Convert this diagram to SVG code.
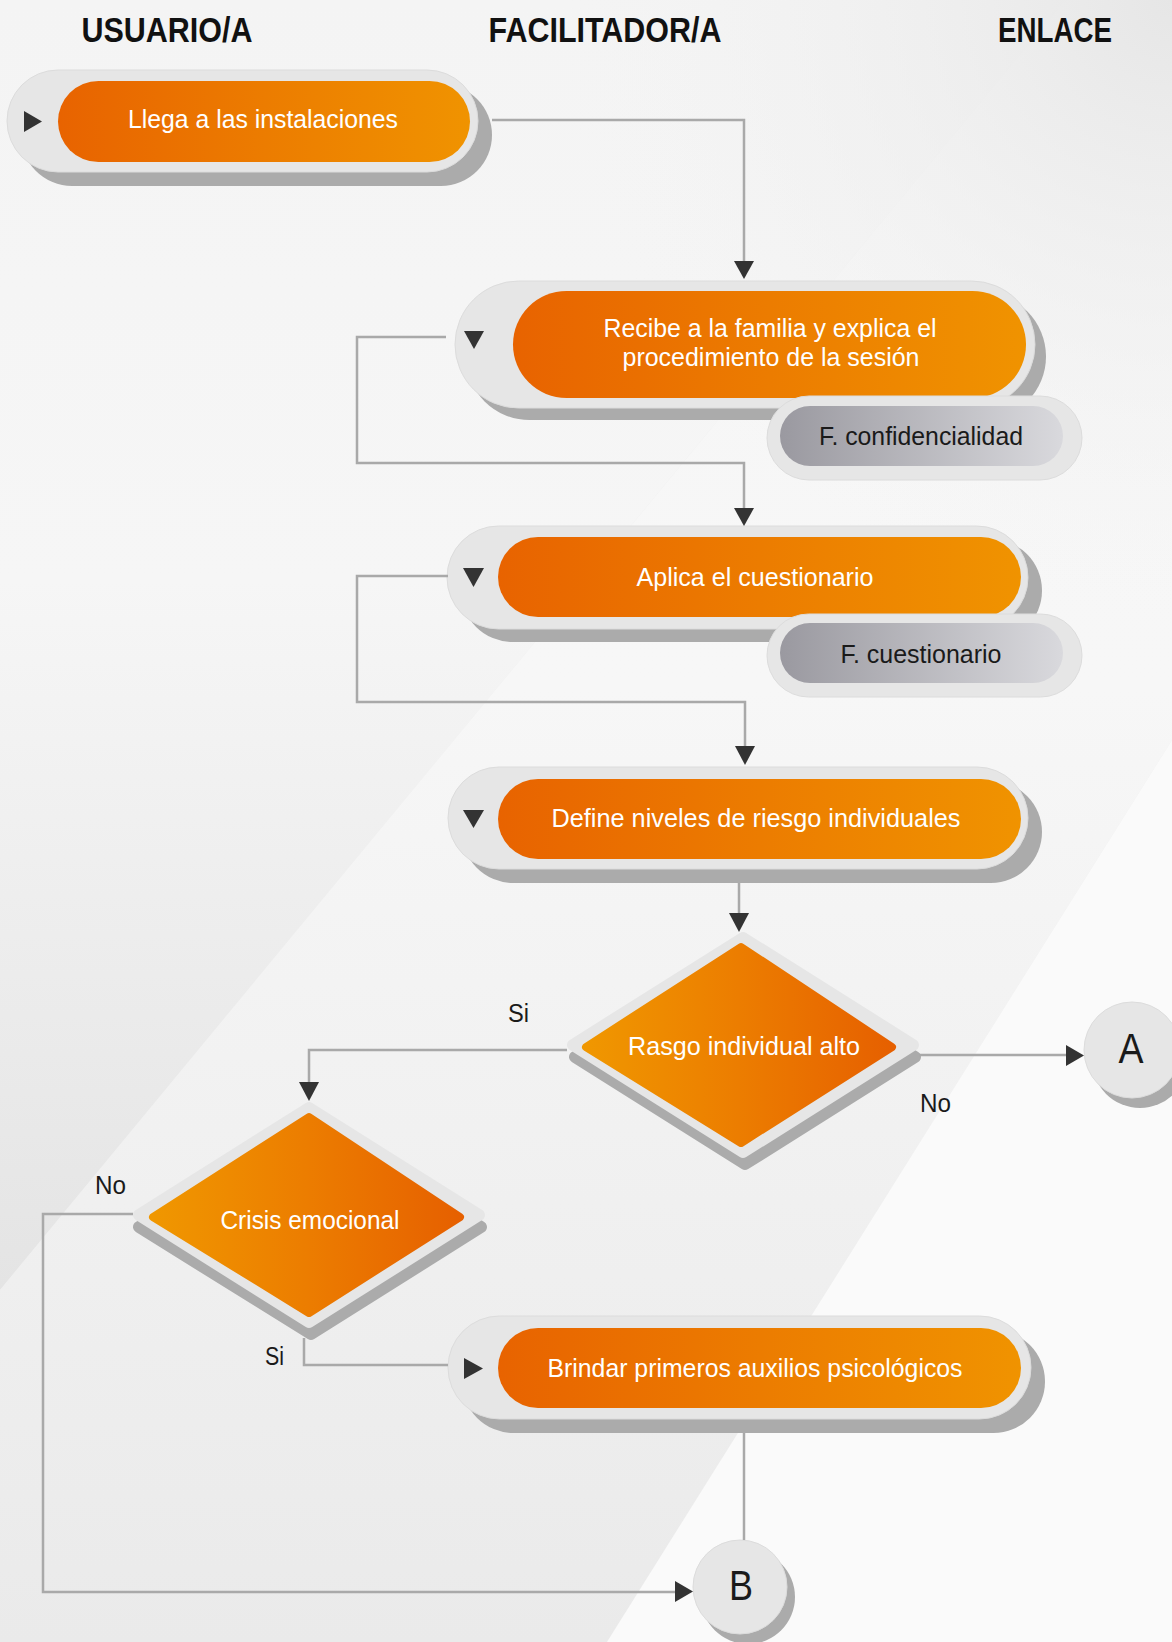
<svg xmlns="http://www.w3.org/2000/svg" width="1172" height="1642" viewBox="0 0 1172 1642">
<defs>
<linearGradient id="gp" x1="0" y1="0" x2="1" y2="0">
<stop offset="0" stop-color="#e86300"/>
<stop offset="0.5" stop-color="#ec7c00"/>
<stop offset="1" stop-color="#f09300"/>
</linearGradient>
<linearGradient id="gd" x1="0" y1="0" x2="1" y2="0">
<stop offset="0" stop-color="#f09700"/>
<stop offset="0.5" stop-color="#ec7d00"/>
<stop offset="1" stop-color="#e66000"/>
</linearGradient>
<linearGradient id="gg" x1="0" y1="0" x2="1" y2="0">
<stop offset="0" stop-color="#9a99a0"/>
<stop offset="1" stop-color="#d9d9dd"/>
</linearGradient>
<linearGradient id="bgL" gradientUnits="userSpaceOnUse" x1="0" y1="0" x2="0" y2="1290">
<stop offset="0" stop-color="#f4f4f4"/>
<stop offset="0.45" stop-color="#f6f6f6"/>
<stop offset="1" stop-color="#e4e4e4"/>
</linearGradient>
<linearGradient id="bgB" gradientUnits="userSpaceOnUse" x1="0" y1="0" x2="0" y2="1642">
<stop offset="0" stop-color="#f6f6f6"/>
<stop offset="0.42" stop-color="#f7f7f7"/>
<stop offset="1" stop-color="#eaeaea"/>
</linearGradient>
<radialGradient id="bgTR" gradientUnits="userSpaceOnUse" cx="1172" cy="0" r="620">
<stop offset="0" stop-color="#e6e6e6" stop-opacity="1"/>
<stop offset="1" stop-color="#f4f4f4" stop-opacity="0"/>
</radialGradient>
<style>
.outer{fill:#e6e6e6;stroke:#dcdcdc;stroke-width:1}
.shadow{fill:#ababab}
.orange{fill:url(#gp)}
.sub{fill:url(#gg)}
.icon{fill:#333333}
.t{font-family:"Liberation Sans",Arial,sans-serif;font-size:25px;fill:#ffffff;text-anchor:middle}
.td{font-family:"Liberation Sans",Arial,sans-serif;font-size:25px;fill:#1a1a1a;text-anchor:middle}
.lbl{font-family:"Liberation Sans",Arial,sans-serif;font-size:25px;fill:#1a1a1a}
.hdr{font-family:"Liberation Sans",Arial,sans-serif;font-size:35px;font-weight:bold;fill:#111111;text-anchor:middle}
.circ{font-family:"Liberation Sans",Arial,sans-serif;font-size:42px;fill:#1a1a1a;text-anchor:middle}
.dout{fill:#e6e6e6;stroke:#e6e6e6;stroke-width:12;stroke-linejoin:round}
.dsh{fill:#ababab;stroke:#ababab;stroke-width:12;stroke-linejoin:round}
.dor{fill:url(#gd);stroke:url(#gd);stroke-width:8;stroke-linejoin:round}
.line{fill:none;stroke:#a9a9a9;stroke-width:2.5}
.arrow{fill:#333333}
</style>
</defs>

<g id="background">
<rect x="0" y="0" width="1172" height="1642" fill="#ececec"/>
<polygon points="0,0 1065,0 0,1290" fill="url(#bgL)"/>
<polygon points="1065,0 1172,0 1172,740 607,1642 0,1642 0,1290" fill="url(#bgB)"/>
<polygon points="1172,740 1172,1642 607,1642" fill="#fafafa"/>
<rect x="0" y="0" width="1172" height="1642" fill="url(#bgTR)"/>
</g>

<g id="headers">
<text class="hdr" x="167" y="42" textLength="171" lengthAdjust="spacingAndGlyphs">USUARIO/A</text>
<text class="hdr" x="605" y="42" textLength="233" lengthAdjust="spacingAndGlyphs">FACILITADOR/A</text>
<text class="hdr" x="1055" y="42" textLength="114" lengthAdjust="spacingAndGlyphs">ENLACE</text>
</g>

<g id="node-llega">
<rect class="shadow" x="21" y="84" width="471" height="102" rx="51"/>
<rect class="outer" x="7" y="70" width="471" height="102" rx="51"/>
<rect class="orange" x="58" y="81" width="412" height="81" rx="40.5"/>
<polygon class="icon" points="24,111 24,132 42,121.5"/>
<text class="t" x="263" y="128" textLength="270" lengthAdjust="spacingAndGlyphs">Llega a las instalaciones</text>
</g>

<g id="node-recibe">
<rect class="shadow" x="466" y="293" width="580" height="127" rx="63.5"/>
<rect class="outer" x="455" y="281" width="580" height="127" rx="63.5"/>
<rect class="orange" x="513" y="291" width="513" height="107" rx="53.5"/>
<polygon class="icon" points="464,331 484,331 474,349"/>
<text class="t" x="770" y="337" textLength="333" lengthAdjust="spacingAndGlyphs">Recibe a la familia y explica el</text>
<text class="t" x="771" y="366" textLength="297" lengthAdjust="spacingAndGlyphs">procedimiento de la sesión</text>
</g>

<g id="node-f-confidencialidad">
<rect class="outer" x="767" y="396" width="315" height="84" rx="42"/>
<rect class="sub" x="780" y="406" width="283" height="60" rx="30"/>
<text class="td" x="921" y="445" textLength="204" lengthAdjust="spacingAndGlyphs">F. confidencialidad</text>
</g>

<g id="node-aplica">
<rect class="shadow" x="461" y="539" width="581" height="103" rx="51.5"/>
<rect class="outer" x="447" y="526" width="581" height="103" rx="51.5"/>
<rect class="orange" x="498" y="537" width="523" height="80" rx="40"/>
<polygon class="icon" points="463,568 484,568 473.5,587"/>
<text class="t" x="755" y="586" textLength="237" lengthAdjust="spacingAndGlyphs">Aplica el cuestionario</text>
</g>

<g id="node-f-cuestionario">
<rect class="outer" x="767" y="614" width="315" height="83" rx="41.5"/>
<rect class="sub" x="780" y="623" width="283" height="60" rx="30"/>
<text class="td" x="921" y="663" textLength="161" lengthAdjust="spacingAndGlyphs">F. cuestionario</text>
</g>

<g id="node-define">
<rect class="shadow" x="462" y="781" width="580" height="102" rx="51"/>
<rect class="outer" x="448" y="767" width="580" height="102" rx="51"/>
<rect class="orange" x="498" y="779" width="523" height="80" rx="40"/>
<polygon class="icon" points="463,810 484,810 473.5,828"/>
<text class="t" x="756" y="827" textLength="409" lengthAdjust="spacingAndGlyphs">Define niveles de riesgo individuales</text>
</g>

<g id="node-rasgo">
<polygon class="dsh" points="745,950 915,1057 745,1164 575,1057"/>
<polygon class="dout" points="743,938 913,1045 743,1152 573,1045"/>
<polygon class="dor" points="741,947 892,1047 741,1143 586,1047"/>
<text class="t" x="744" y="1055" textLength="232" lengthAdjust="spacingAndGlyphs">Rasgo individual alto</text>
</g>

<g id="node-a">
<circle class="shadow" cx="1140" cy="1060" r="48"/>
<circle cx="1132" cy="1050" r="48" fill="#e6e6e6" stroke="#dcdcdc" stroke-width="1"/>
<text class="circ" x="1131" y="1063" textLength="25" lengthAdjust="spacingAndGlyphs">A</text>
</g>

<g id="node-crisis">
<polygon class="dsh" points="311,1120 481,1227 311,1334 139,1227"/>
<polygon class="dout" points="309,1108 479,1215 309,1322 139,1215"/>
<polygon class="dor" points="309,1117 460,1217 309,1313 153,1217"/>
<text class="t" x="310" y="1229" textLength="179" lengthAdjust="spacingAndGlyphs">Crisis emocional</text>
</g>

<g id="node-brindar">
<rect class="shadow" x="462" y="1330" width="583" height="103" rx="51.5"/>
<rect class="outer" x="448" y="1316" width="583" height="103" rx="51.5"/>
<rect class="orange" x="498" y="1328" width="523" height="80" rx="40"/>
<polygon class="icon" points="464,1358 464,1379 483,1368.5"/>
<text class="t" x="755" y="1377" textLength="415" lengthAdjust="spacingAndGlyphs">Brindar primeros auxilios psicológicos</text>
</g>

<g id="node-b">
<circle class="shadow" cx="748" cy="1597" r="47"/>
<circle cx="740" cy="1587" r="47" fill="#e6e6e6" stroke="#dcdcdc" stroke-width="1"/>
<text class="circ" x="741" y="1600" font-size="40" textLength="24" lengthAdjust="spacingAndGlyphs">B</text>
</g>

<g id="connectors">
<path class="line" d="M492 120 H744 V262"/>
<polygon class="arrow" points="734,261 754,261 744,279"/>
<path class="line" d="M446 337 H357 V463 H744 V509"/>
<polygon class="arrow" points="734,508 754,508 744,526"/>
<path class="line" d="M448 576 H357 V702 H745 V747"/>
<polygon class="arrow" points="735,746 755,746 745,765"/>
<path class="line" d="M739 883 V914"/>
<polygon class="arrow" points="729,913 749,913 739,932"/>
<path class="line" d="M567 1050 H309 V1083"/>
<polygon class="arrow" points="299,1082 319,1082 309,1101"/>
<path class="line" d="M919 1055 H1067"/>
<polygon class="arrow" points="1066,1045 1066,1066 1084,1055.5"/>
<path class="line" d="M133 1214 H43 V1592 H676"/>
<polygon class="arrow" points="675,1581 675,1602 693,1591.5"/>
<path class="line" d="M304 1338 V1365 H448"/>
<path class="line" d="M744 1433 V1540"/>
</g>

<g id="labels">
<text class="lbl" x="508" y="1022" textLength="21" lengthAdjust="spacingAndGlyphs">Si</text>
<text class="lbl" x="920" y="1112" textLength="31" lengthAdjust="spacingAndGlyphs">No</text>
<text class="lbl" x="95" y="1194" textLength="31" lengthAdjust="spacingAndGlyphs">No</text>
<text class="lbl" x="265" y="1365" textLength="19" lengthAdjust="spacingAndGlyphs">Si</text>
</g>
</svg>
